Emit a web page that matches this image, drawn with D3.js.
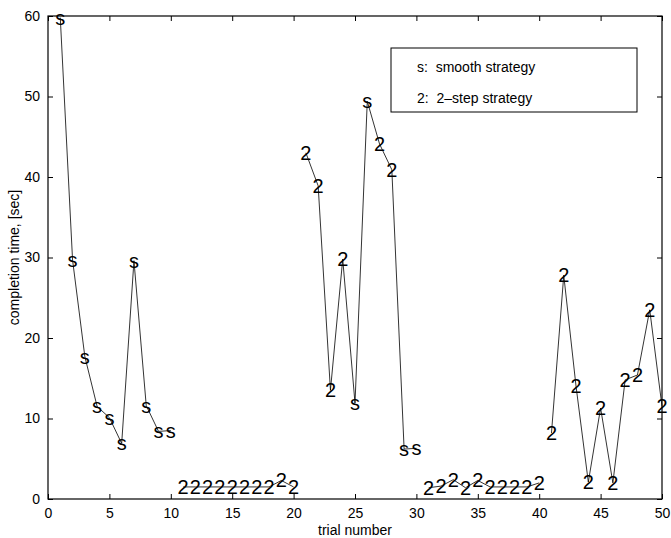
<html>
<script src="https://d3js.org/d3.v7.min.js"></script>
<style>
body { margin: 0; background: #fff; }
text { font-family: "Liberation Sans", Arial, sans-serif; fill: #000; }
</style>
<body>
<script>
// trial numbers, one marker per trial
const trials = [1,2,3,4,5,6,7,8,9,10,
                11,12,13,14,15,16,17,18,19,20,
                21,22,23,24,25,26,27,28,29,30,
                31,32,33,34,35,36,37,38,39,40,
                41,42,43,44,45,46,47,48,49,50];
// strategy used per trial: "s" smooth, "2" 2-step
const strategy = ["s","s","s","s","s","s","s","s","s","s",
                  "2","2","2","2","2","2","2","2","2","2",
                  "2","2","2","2","s","s","2","2","s","s",
                  "2","2","2","2","2","2","2","2","2","2",
                  "2","2","2","2","2","2","2","2","2","2"];
// completion time [sec]
const times = [59.8,29.7,17.7,11.5,10.1,6.9,29.6,11.6,8.4,8.5,
               1.5,1.5,1.5,1.5,1.5,1.5,1.5,1.5,2.3,1.5,
               43.0,38.9,13.5,29.8,11.9,49.4,44.1,40.9,6.2,6.3,
               1.4,1.6,2.4,1.4,2.3,1.5,1.5,1.5,1.5,2.0,
               8.2,27.8,14.0,2.1,11.3,2.0,14.8,15.4,23.5,11.5];
const xTicks = [0,5,10,15,20,25,30,35,40,45,50];
const yTicks = [0,10,20,30,40,50,60];
const legendLines = ["s:  smooth strategy", "2:  2\u2013step strategy"];

let width = 671, height = 538;
let margin = {top: 16, right: 9, bottom: 39, left: 48};

let svg = d3.select("body").append("svg")
    .attr("width", width).attr("height", height);

let x = d3.scaleLinear().domain([0, 50]).range([margin.left, width - margin.right]);
let y = d3.scaleLinear().domain([0, 60]).range([height - margin.bottom, margin.top]);

let data = trials.map((t, i) => ({trial: t, time: times[i], mark: strategy[i], block: Math.floor((t - 1) / 10)}));

// axes, ticks pointing inward on all four sides
let axisB = d3.axisBottom(x).tickValues(xTicks).tickSize(-5).tickPadding(9).tickFormat(d3.format("d"));
let axisT = d3.axisTop(x).tickValues(xTicks).tickSize(-5).tickFormat("");
let axisL = d3.axisLeft(y).tickValues(yTicks).tickSize(-5).tickPadding(8).tickFormat(d3.format("d"));
let axisR = d3.axisRight(y).tickValues(yTicks).tickSize(-5).tickFormat("");

function styleAxis(g) {
    g.select(".domain").remove();
    g.selectAll(".tick line").attr("stroke", "#000");
    g.selectAll(".tick text").attr("font-size", 14).attr("font-family", "Liberation Sans, Arial, sans-serif").attr("fill", "#000");
}
svg.append("g").attr("transform", `translate(0,${y(0)})`).call(axisB).call(styleAxis);
svg.append("g").attr("transform", `translate(0,${y(60)})`).call(axisT).call(styleAxis);
svg.append("g").attr("transform", `translate(${x(0)},0)`).call(axisL).call(styleAxis);
svg.append("g").attr("transform", `translate(${x(50)},0)`).call(axisR).call(styleAxis);

svg.append("rect")
    .attr("x", x(0)).attr("y", y(60))
    .attr("width", x(50) - x(0)).attr("height", y(0) - y(60))
    .attr("fill", "none").attr("stroke", "#000").attr("stroke-width", 1.2);

// connecting lines, one per block of ten trials
let line = d3.line().x(d => x(d.trial)).y(d => y(d.time));
let blocks = d3.groups(data, d => d.block);
svg.append("g").selectAll("path")
    .data(blocks)
    .join("path")
    .attr("d", b => line(b[1]))
    .attr("fill", "none")
    .attr("stroke", "#000")
    .attr("stroke-width", 0.8);

// text markers
svg.append("g").selectAll("text")
    .data(data)
    .join("text")
    .attr("x", d => x(d.trial))
    .attr("y", d => y(d.time))
    .attr("text-anchor", "middle")
    .attr("dominant-baseline", "central")
    .attr("font-size", 20)
    .text(d => d.mark);

// axis labels
svg.append("text")
    .attr("x", (x(0) + x(50)) / 2).attr("y", 535)
    .attr("text-anchor", "middle").attr("font-size", 14)
    .text("trial number");
svg.append("text")
    .attr("transform", `translate(19,${(y(0) + y(60)) / 2}) rotate(-90)`)
    .attr("text-anchor", "middle").attr("font-size", 14)
    .text("completion time, [sec]");

// legend
let legend = svg.append("g");
legend.append("rect")
    .attr("x", 391).attr("y", 48).attr("width", 246).attr("height", 64)
    .attr("fill", "#fff").attr("stroke", "#000").attr("stroke-width", 1);
legend.selectAll("text")
    .data(legendLines)
    .join("text")
    .attr("x", 417)
    .attr("y", (d, i) => 72 + i * 31)
    .attr("font-size", 14)
    .attr("xml:space", "preserve")
    .style("white-space", "pre")
    .text(d => d);
</script>
</body>
</html>
